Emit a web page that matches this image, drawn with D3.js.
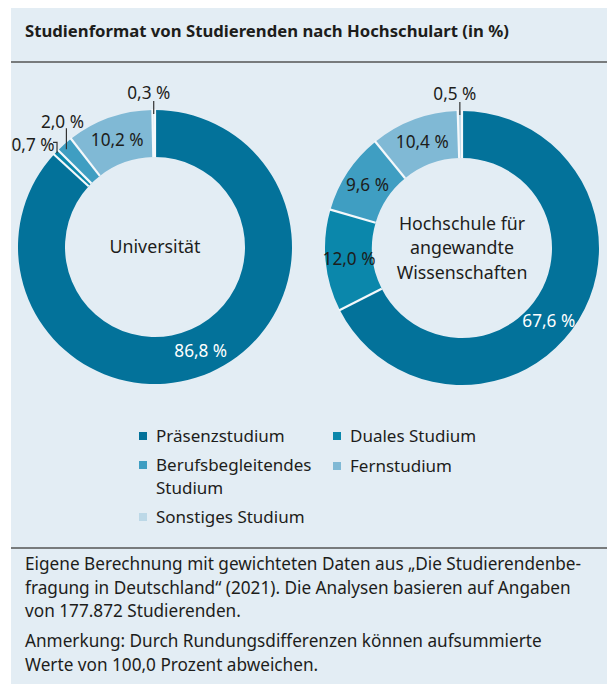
<!DOCTYPE html>
<html>
<head>
<meta charset="utf-8">
<script src="https://cdn.jsdelivr.net/npm/d3@7"></script>
<style>
  body { margin: 0; background: #fff; }
  svg { display: block; font-family: "Noto Sans", sans-serif; }
</style>
</head>
<body>
<svg id="chart"></svg>
<script>
const svgWidth = 612,
    svgHeight = 684;

// categories and values (in %)
const categories = ["Präsenzstudium", "Duales Studium", "Berufsbegleitendes Studium", "Fernstudium", "Sonstiges Studium"];
const universitaet = [86.8, 0.7, 2.0, 10.2, 0.3];
const haw = [67.6, 12.0, 9.6, 10.4, 0.5];
const donutTitles = [["Universität"], ["Hochschule für", "angewandte", "Wissenschaften"]];

const colors = ["#03729a", "#0b87ab", "#3f9ec2", "#80b9d5", "#bcd8e7"];
const panelColor = "#e3edf4";
const textColor = "#1d1d1b";

const fmt = v => d3.format(".1f")(v).replace(".", ",") + " %";

const chart = d3.select("#chart")
    .attr("width", svgWidth)
    .attr("height", svgHeight);

// panel + header
chart.append("rect")
    .attr("x", 11).attr("y", 8)
    .attr("width", 596).attr("height", 676)
    .attr("fill", panelColor);

chart.append("text")
    .attr("x", 25).attr("y", 37)
    .attr("font-size", 16.7)
    .attr("font-weight", "bold")
    .attr("fill", textColor)
    .text("Studienformat von Studierenden nach Hochschulart (in %)");

chart.append("line")
    .attr("x1", 11).attr("x2", 607)
    .attr("y1", 62).attr("y2", 62)
    .attr("stroke", "#555").attr("stroke-width", 1.5);

chart.append("line")
    .attr("x1", 11).attr("x2", 607)
    .attr("y1", 548).attr("y2", 548)
    .attr("stroke", "#555").attr("stroke-width", 1.5);

// donuts
const rOuter = 137, rInner = 90;
const pie = d3.pie().sort(null).value(d => d);
const arc = d3.arc().innerRadius(rInner).outerRadius(rOuter);

// how each slice label is placed: inside (centroid) or outside with a leader
// leader: "tick" = short vertical line, "bracket" = small hook to the left
const labelStyle = [
  [{pos: "in", color: "#fff", dAngle: 0}, {pos: "out", leader: "bracket", dx: -23, dy: -7},
   {pos: "out", leader: "long", dx: -2, dy: -22}, {pos: "in", color: textColor, dAngle: 0},
   {pos: "out", leader: "tick", dx: -5, dy: -17}],
  [{pos: "in", color: "#fff", dAngle: 0.15}, {pos: "in", color: textColor, dAngle: 0},
   {pos: "in", color: textColor, dAngle: 0}, {pos: "in", color: textColor, dAngle: 0},
   {pos: "out", leader: "tick", dx: -5, dy: -17}]
];

function drawDonut(values, cx, cy, idx) {
  const g = chart.append("g").attr("transform", `translate(${cx},${cy})`);
  const arcs = pie(values);

  g.selectAll("path.slice")
    .data(arcs)
    .enter().append("path")
    .attr("class", "slice")
    .attr("d", arc)
    .attr("fill", (d, i) => colors[i]);

  // white separators at slice boundaries
  g.selectAll("line.sep")
    .data(arcs)
    .enter().append("line")
    .attr("class", "sep")
    .attr("x1", d => rInner * Math.sin(d.startAngle))
    .attr("y1", d => -rInner * Math.cos(d.startAngle))
    .attr("x2", d => (rOuter + 1) * Math.sin(d.startAngle))
    .attr("y2", d => -(rOuter + 1) * Math.cos(d.startAngle))
    .attr("stroke", "#f4f8fb")
    .attr("stroke-width", 2.2);

  // labels
  arcs.forEach((d, i) => {
    const st = labelStyle[idx][i];
    const mid = (d.startAngle + d.endAngle) / 2;
    if (st.pos === "in") {
      const a = mid + st.dAngle;
      const r = (rInner + rOuter) / 2;
      g.append("text")
        .attr("x", r * Math.sin(a))
        .attr("y", -r * Math.cos(a))
        .attr("dy", "0.35em")
        .attr("text-anchor", "middle")
        .attr("font-size", 17.2)
        .attr("fill", st.color)
        .text(fmt(d.data));
    } else {
      const px = rOuter * Math.sin(mid), py = -rOuter * Math.cos(mid);
      const lead = g.append("path")
        .attr("fill", "none")
        .attr("stroke", "#333")
        .attr("stroke-width", 1.2);
      if (st.leader === "tick") {
        lead.attr("d", `M${px},${py + 4}V${py - 9}`);
      } else if (st.leader === "long") {
        lead.attr("d", `M${px + 2},${py + 5}V${py - 16}`);
      } else {
        lead.attr("d", `M${px - 3},${py - 10}H${px + 1}V${py + 1}`);
      }
      g.append("text")
        .attr("x", px + st.dx).attr("y", py + st.dy)
        .attr("dy", "0.35em")
        .attr("text-anchor", "middle")
        .attr("font-size", 17.2)
        .attr("fill", textColor)
        .text(fmt(d.data));
    }
  });

  // center title
  const lines = donutTitles[idx];
  const title = g.append("text")
    .attr("class", "center")
    .attr("text-anchor", "middle")
    .attr("font-size", 17.8)
    .attr("fill", textColor);
  title.selectAll("tspan")
    .data(lines)
    .enter().append("tspan")
    .attr("x", 0)
    .attr("y", (l, i) => (i - (lines.length - 1) / 2) * 24.5)
    .attr("dy", "0.35em")
    .text(l => l);
}

drawDonut(universitaet, 155, 247, 0);
drawDonut(haw, 462, 248, 1);

// legend
const legendPos = [[143, 436], [337, 436], [143, 465], [337, 466], [143, 517]];
const legendLines = [["Präsenzstudium"], ["Duales Studium"], ["Berufsbegleitendes", "Studium"], ["Fernstudium"], ["Sonstiges Studium"]];

const legend = chart.selectAll("g.legend")
    .data(categories)
    .enter().append("g")
    .attr("class", "legend")
    .attr("transform", (d, i) => `translate(${legendPos[i][0]},${legendPos[i][1]})`);

legend.append("rect")
    .attr("x", -4).attr("y", -4)
    .attr("width", 8).attr("height", 8)
    .attr("fill", (d, i) => colors[i]);

legend.append("text")
    .attr("font-size", 17)
    .attr("fill", textColor)
    .each(function(d, i) {
      d3.select(this).selectAll("tspan")
        .data(legendLines[i])
        .enter().append("tspan")
        .attr("x", 13)
        .attr("y", (l, j) => j * 23.5)
        .attr("dy", "0.35em")
        .text(l => l);
    });

// footnote
const notes = [
  "Eigene Berechnung mit gewichteten Daten aus \u201EDie Studierendenbe-",
  "fragung in Deutschland\u201C (2021). Die Analysen basieren auf Angaben",
  "von 177.872 Studierenden.",
  "Anmerkung: Durch Rundungsdifferenzen können aufsummierte",
  "Werte von 100,0 Prozent abweichen."
];
const noteY = [564, 587.5, 611, 641, 664.5];

chart.selectAll("text.note")
    .data(notes)
    .enter().append("text")
    .attr("class", "note")
    .attr("x", 25)
    .attr("y", (d, i) => noteY[i])
    .attr("dy", "0.35em")
    .attr("font-size", 17.2)
    .attr("fill", textColor)
    .text(d => d);
</script>
</body>
</html>
